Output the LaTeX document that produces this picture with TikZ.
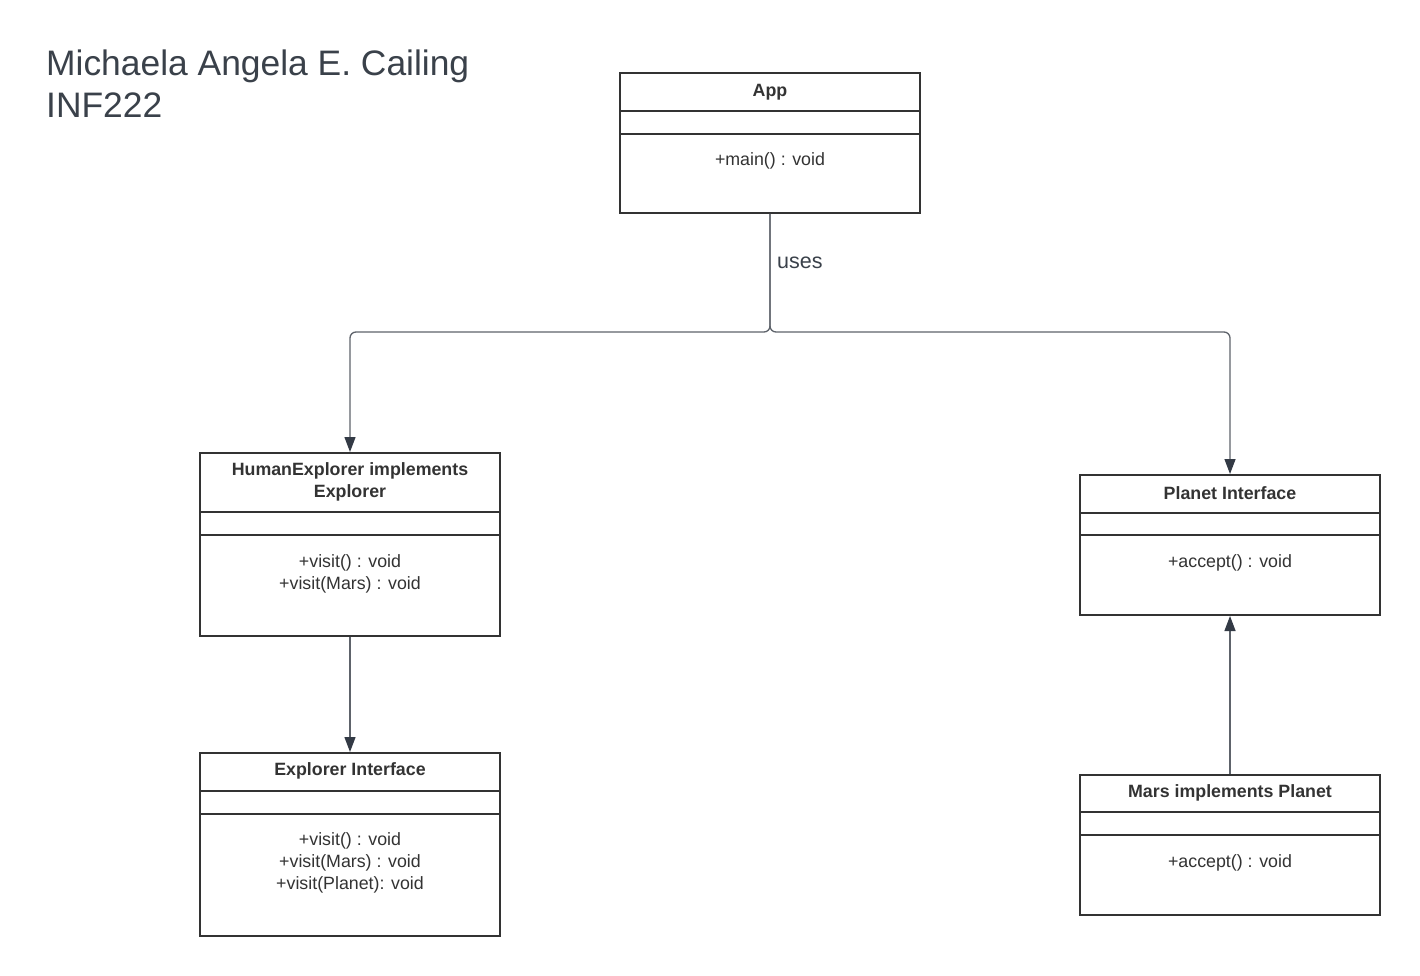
\documentclass[tikz,border=0pt]{standalone}
\usepackage{fontspec}
\setmainfont{Liberation Sans}
\usetikzlibrary{arrows.meta}
\definecolor{txt}{HTML}{333333}
\definecolor{ttl}{HTML}{3A414A}
\definecolor{conn}{HTML}{5E636B}
\definecolor{tipc}{HTML}{333A45}
\begin{document}
\begin{tikzpicture}[x=1pt,y=-1pt,
  cls/.style={draw=txt, line width=2pt, minimum width=300pt, inner sep=0pt, fill=white},
  div/.style={draw=txt, line width=2pt},
  hdr/.style={font=\bfseries\fontsize{17.8}{22}\selectfont, text=txt, align=center},
  mth/.style={font=\fontsize{17.8}{22}\selectfont, text=txt, align=center},
  link/.style={draw=conn, line width=1.3pt, rounded corners=6pt, -{Triangle[length=15pt,width=11pt,color=tipc]}},
  ttlfont/.style={font=\fontsize{35.4}{42}\selectfont, text=ttl, inner sep=0pt, anchor=base west}
]
\fill[white] (0,0) rectangle (1420,976);
\useasboundingbox (0,0) rectangle (1420,976);

% title
\node[ttlfont] (t1) at (46,76) {Michaela Angela E. Cailing};
\node[ttlfont] (t2) at (46,118) {INF222};

% App
\node[cls, minimum height=140pt] (app) at (770,143) {};
\draw[div] (620,111) -- (920,111);
\draw[div] (620,134) -- (920,134);
\node[hdr] (apph) at (770,92) {App};
\node[mth] (appm) at (770,161) {+main() : void};

% HumanExplorer
\node[cls, minimum height=183pt] (he) at (350,544.5) {};
\draw[div] (200,512) -- (500,512);
\draw[div] (200,535) -- (500,535);
\node[hdr] (heh) at (350,482) {HumanExplorer implements\\Explorer};
\node[mth] (hem) at (350,574) {+visit() : void\\+visit(Mars) : void};

% Explorer Interface
\node[cls, minimum height=183pt] (ei) at (350,844.5) {};
\draw[div] (200,791) -- (500,791);
\draw[div] (200,814) -- (500,814);
\node[hdr] (eih) at (350,771) {Explorer Interface};
\node[mth] (eim) at (350,863) {+visit() : void\\+visit(Mars) : void\\+visit(Planet): void};

% Planet Interface
\node[cls, minimum height=140pt] (pi) at (1230,545) {};
\draw[div] (1080,513) -- (1380,513);
\draw[div] (1080,535) -- (1380,535);
\node[hdr] (pih) at (1230,493) {Planet Interface};
\node[mth] (pim) at (1230,563) {+accept() : void};

% Mars
\node[cls, minimum height=140pt] (ma) at (1230,845) {};
\draw[div] (1080,812) -- (1380,812);
\draw[div] (1080,835) -- (1380,835);
\node[hdr] (mah) at (1230,793) {Mars implements Planet};
\node[mth] (mam) at (1230,863) {+accept() : void};

% connectors
\coordinate (j) at (770,332);
\draw[link] (app.south) -- (j) -| (he.north);
\draw[link] (app.south) -- (j) -| (pi.north);
\node[font=\fontsize{21.5}{26}\selectfont, text=ttl, anchor=west, inner sep=0pt] (uses) at (777,263) {uses};
\draw[link] (he.south) -- (ei.north);
\draw[link] (ma.north) -- (pi.south);
\end{tikzpicture}
\end{document}
